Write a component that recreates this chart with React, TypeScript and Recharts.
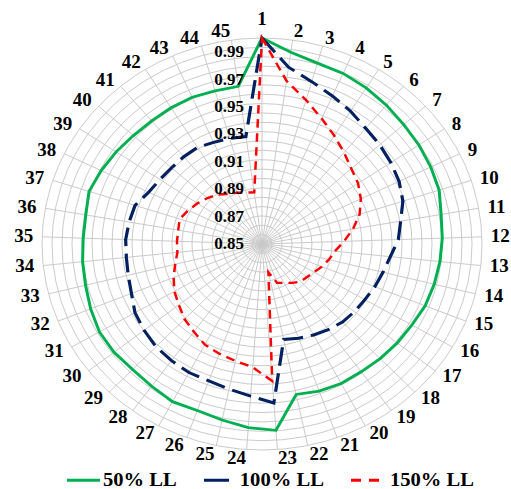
import React from 'react';
import { RadarChart, Radar, PolarGrid, PolarAngleAxis, PolarRadiusAxis, Legend } from 'recharts';

const categories = [
  '1', '2', '3', '4', '5', '6', '7', '8', '9', '10', '11', '12', '13', '14', '15',
  '16', '17', '18', '19', '20', '21', '22', '23', '24', '25', '26', '27', '28', '29', '30',
  '31', '32', '33', '34', '35', '36', '37', '38', '39', '40', '41', '42', '43', '44', '45',
];

const ll50 = [
  1.0, 0.991, 0.987, 0.986, 0.984, 0.982, 0.98, 0.979, 0.978, 0.977,
  0.974, 0.973, 0.972, 0.971, 0.97, 0.968, 0.967, 0.966, 0.965, 0.965,
  0.964, 0.962, 0.986, 0.984, 0.981, 0.979, 0.98, 0.978, 0.977, 0.978,
  0.978, 0.976, 0.974, 0.973, 0.972, 0.972, 0.974, 0.972, 0.97, 0.968,
  0.967, 0.967, 0.967, 0.966, 0.966,
];

const ll100 = [
  1.0, 0.98, 0.973, 0.968, 0.964, 0.96, 0.958, 0.956, 0.954, 0.951,
  0.946, 0.943, 0.938, 0.935, 0.933, 0.931, 0.93, 0.929, 0.927, 0.925,
  0.923, 0.921, 0.966, 0.961, 0.958, 0.956, 0.956, 0.955, 0.954, 0.952,
  0.95, 0.946, 0.944, 0.943, 0.943, 0.942, 0.941, 0.936, 0.934, 0.933,
  0.933, 0.933, 0.931, 0.93, 0.929,
];

const ll150 = [
  1.0, 0.97, 0.959, 0.95, 0.943, 0.937, 0.932, 0.929, 0.925, 0.92,
  0.913, 0.906, 0.9, 0.897, 0.894, 0.891, 0.889, 0.888, 0.885, 0.882,
  0.88, 0.871, 0.95, 0.94, 0.937, 0.935, 0.933, 0.929, 0.926, 0.922,
  0.919, 0.915, 0.911, 0.908, 0.908, 0.908, 0.909, 0.906, 0.903, 0.9,
  0.897, 0.893, 0.891, 0.889, 0.888,
];

const seriesNames = ['50% LL', '100% LL', '150% LL'];
const radiusTicks = [0.85, 0.87, 0.89, 0.91, 0.93, 0.95, 0.97, 0.99];

const rows = categories.map((cat, i) => ({ cat, a: ll50[i], b: ll100[i], c: ll150[i] }));

// the source picture is slightly squashed vertically, so the chart is too
const SY = 0.9364;
const W = 511;
const H = 522;
const CX = 262;
const CY = 260.6;
const R = 220;
const RINGS = 22;
const FONT = '"Liberation Serif", "Times New Roman", serif';

const ringRadii = Array.from({ length: RINGS }, (_, i) => ((i + 1) * R) / RINGS);

// legend sample: line length, dash
const legendIcons: Record<string, { len: number; dash?: string }> = {
  '50% LL': { len: 33 },
  '100% LL': { len: 25 },
  '150% LL': { len: 28, dash: '10 8' },
};

const AngleTick = (props: any) => {
  const { payload } = props;
  const a = (payload.coordinate * Math.PI) / 180;
  const cos = Math.cos(a);
  const sin = Math.sin(a);
  const top = Math.abs(cos) < 0.01;
  const off = R + 9 + (top ? 11 : 0);
  const anchor = top ? 'middle' : cos > 0 ? 'start' : 'end';
  return (
    <text
      x={CX + off * cos}
      y={CY - off * sin}
      textAnchor={anchor}
      dominantBaseline="central"
      fontFamily={FONT}
      fontWeight="bold"
      fontSize={19}
      fill="#000"
    >
      {payload.value}
    </text>
  );
};

const RadiusTick = (props: any) => {
  const { x, y, payload } = props;
  return (
    <text
      x={x - 18}
      y={y}
      textAnchor="end"
      dominantBaseline="central"
      fontFamily={FONT}
      fontWeight="bold"
      fontSize={17}
      fill="#000"
    >
      {Number(payload.value).toFixed(2)}
    </text>
  );
};

const renderLegend = (props: any) => {
  const items = [...(props.payload || [])].sort(
    (p: any, q: any) => seriesNames.indexOf(p.value) - seriesNames.indexOf(q.value)
  );
  return (
    <div style={{ display: 'flex', alignItems: 'center', fontFamily: FONT, fontWeight: 'bold', fontSize: 20.6 }}>
      {items.map((entry: any, i: number) => {
        const icon = legendIcons[entry.value] || { len: 30 };
        return (
          <div key={entry.value} style={{ display: 'flex', alignItems: 'center', marginLeft: i === 0 ? 0 : 27 }}>
            <svg width={icon.len} height={10} style={{ marginRight: i === 0 ? 3 : 11 }}>
              <line x1={0} y1={5} x2={icon.len} y2={5} stroke={entry.color} strokeWidth={3.2} strokeDasharray={icon.dash} />
            </svg>
            <span style={{ color: '#000' }}>{entry.value}</span>
          </div>
        );
      })}
    </div>
  );
};

export default function App() {
  return (
    <div style={{ position: 'fixed', left: 0, top: 0, width: W, height: 489, overflow: 'hidden', background: '#fff' }}>
      <div style={{ transform: `scaleY(${SY})`, transformOrigin: '0 0', width: W, height: H }}>
        <RadarChart width={W} height={H} cx={CX} cy={CY} outerRadius={R} data={rows} margin={{ top: 0, right: 0, bottom: 0, left: 0 }}>
          <PolarGrid gridType="circle" polarRadius={ringRadii} stroke="#c8c8c8" strokeWidth={1} />
          <PolarAngleAxis dataKey="cat" tick={<AngleTick />} tickLine={false} axisLine={false} />
          <PolarRadiusAxis
            angle={90}
            domain={[0.85, 1]}
            ticks={radiusTicks}
            tick={<RadiusTick />}
            axisLine={false}
            tickLine={false}
          />
          <Radar name={seriesNames[0]} dataKey="a" stroke="#00b050" strokeWidth={3} fill="none" fillOpacity={0} dot={false} isAnimationActive={false} />
          <Radar name={seriesNames[1]} dataKey="b" stroke="#002060" strokeWidth={3.2} strokeDasharray="20 8" fill="none" fillOpacity={0} dot={false} isAnimationActive={false} />
          <Radar name={seriesNames[2]} dataKey="c" stroke="#ff0000" strokeWidth={2.5} strokeDasharray="9 6" fill="none" fillOpacity={0} dot={false} isAnimationActive={false} />
          <Legend content={renderLegend} wrapperStyle={{ left: 67, top: 501, width: 'auto' }} />
        </RadarChart>
      </div>
    </div>
  );
}
